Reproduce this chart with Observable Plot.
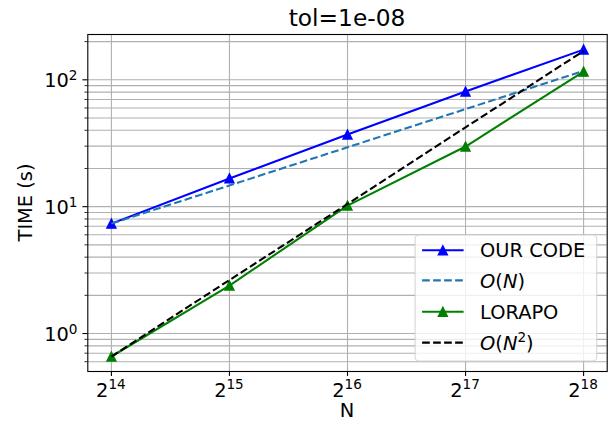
<!DOCTYPE html>
<html><head><meta charset="utf-8">
<script src="https://cdn.jsdelivr.net/npm/d3@7"></script>
<script src="https://cdn.jsdelivr.net/npm/@observablehq/plot@0.6"></script>
<style>body{margin:0;background:#fff} svg{display:block}</style>
</head><body><div id="chart"></div>
<script>
// ---- data ----
const N = [16384, 32768, 65536, 131072, 262144];
const ourCode = [7.35, 16.7, 37.1, 80.9, 173];
const orderN = [7.35, 14.7, 29.4, 58.8, 117.6];
const lorapo = [0.659, 2.39, 10.2, 29.8, 116];
const orderN2 = [0.659, 2.64, 10.5, 42.2, 168.7];
const xTickBase = "2";
const xTickExponents = [14, 15, 16, 17, 18];
const yMajorTicks = [1, 10, 100];
const yTickBase = "10";
const yMajorExponents = ["0", "1", "2"];
const yMinorTicks = [0.6, 0.7, 0.8, 0.9, 2, 3, 4, 5, 6, 7, 8, 9, 20, 30, 40, 50, 60, 70, 80, 90, 200];
const titleText = "tol=1e-08";
const xLabelText = "N";
const yLabelText = "TIME (s)";

// ---- styling ----
const W = 610, H = 426, mL = 87.3, mR = 3.3, mT = 34, mB = 55;
const FONT = "DejaVu Sans";
const FS = 19.4, SUP = 13.6, RAISE = 7.4;
const LW = 2.08, DASH = "7.7,3.3";
const MSIDE = 9.0;

const series = [
  {name: "OUR CODE", values: ourCode, color: "#0000ff", dash: null, marker: true},
  {name: "O(N)", values: orderN, color: "#1f77b4", dash: DASH, marker: false},
  {name: "LORAPO", values: lorapo, color: "#008000", dash: null, marker: true},
  {name: "O(N^2)", values: orderN2, color: "#000000", dash: DASH, marker: false}
];
const rowsOf = s => N.map((n, i) => ({n, t: s.values[i]}));

// matplotlib-like "^" marker (height == base)
const triUp = {draw(ctx, size) {
  const h = Math.sqrt(size) / 2;
  ctx.moveTo(0, -h); ctx.lineTo(h, h); ctx.lineTo(-h, h); ctx.closePath();
}};
const MR = MSIDE / Math.sqrt(Math.PI);

const marks = [
  Plot.gridY([...yMajorTicks, ...yMinorTicks], {stroke: "#b0b0b0", strokeOpacity: 1, strokeWidth: 1.1}),
  Plot.gridX(N, {stroke: "#b0b0b0", strokeOpacity: 1, strokeWidth: 1.1})
];
for (const s of series) {
  const data = rowsOf(s);
  marks.push(Plot.line(data, {x: "n", y: "t", stroke: s.color, strokeWidth: LW, strokeDasharray: s.dash, strokeLinecap: "butt"}));
  if (s.marker) marks.push(Plot.dot(data, {x: "n", y: "t", symbol: triUp, r: MR, fill: s.color, stroke: s.color, strokeWidth: 1.39}));
}
marks.push(
  Plot.frame({stroke: "#000", strokeWidth: 1.1}),
  Plot.axisX(N, {tickSize: 4.9, strokeWidth: 1.1, tickFormat: () => "", label: null}),
  Plot.axisY(yMajorTicks, {tickSize: 4.9, strokeWidth: 1.1, tickFormat: () => "", label: null}),
  Plot.axisY(yMinorTicks, {tickSize: 2.8, strokeWidth: 0.83, tickFormat: () => "", label: null})
);

const chart = Plot.plot({
  width: W, height: H,
  marginLeft: mL, marginRight: mR, marginTop: mT, marginBottom: mB,
  style: {fontFamily: FONT, background: "#fff", overflow: "visible"},
  x: {type: "log", base: 2, domain: [2 ** 13.8, 2 ** 18.2]},
  y: {type: "log", domain: [0.502, 227.6]},
  marks
});
document.getElementById("chart").appendChild(chart);

const svg = d3.select(chart);
const xs = chart.scale("x"), ys = chart.scale("y");
const g = svg.append("g").attr("font-family", FONT).attr("fill", "#000");

// x tick labels 2^k
xTickExponents.forEach(e => {
  const t = g.append("text").attr("x", xs.apply(2 ** e)).attr("y", H - mB + 25.7)
    .attr("text-anchor", "middle").attr("font-size", FS);
  t.append("tspan").text(xTickBase);
  t.append("tspan").attr("font-size", SUP).attr("dy", -RAISE).text(String(e));
});
// y tick labels 10^k
yMajorTicks.forEach((v, i) => {
  const t = g.append("text").attr("x", mL - 9.8).attr("y", ys.apply(v) + 8)
    .attr("text-anchor", "end").attr("font-size", FS);
  t.append("tspan").text(yTickBase);
  t.append("tspan").attr("font-size", SUP).attr("dy", -RAISE).text(yMajorExponents[i]);
});
// title and axis labels
const cx = (mL + W - mR) / 2, cy = (mT + H - mB) / 2;
g.append("text").attr("x", cx).attr("y", 26).attr("text-anchor", "middle").attr("font-size", 23.3).text(titleText);
g.append("text").attr("x", cx).attr("y", 417).attr("text-anchor", "middle").attr("font-size", FS).text(xLabelText);
g.append("text").attr("transform", `translate(31.5,${cy}) rotate(-90)`).attr("text-anchor", "middle").attr("font-size", FS).text(yLabelText);

// legend (lower right)
const lg = svg.append("g").attr("font-family", FONT);
const boxR = W - mR - 10, boxL = boxR - 181.6, boxT = 235, boxB = 361;
lg.append("rect").attr("x", boxL).attr("y", boxT).attr("width", boxR - boxL).attr("height", boxB - boxT)
  .attr("rx", 3.9).attr("fill", "#fff").attr("fill-opacity", 0.8)
  .attr("stroke", "#cccccc").attr("stroke-opacity", 0.8).attr("stroke-width", 1.1);
const rowY = [250.2, 280.4, 311.7, 342.6];
const hx0 = boxL + 7, hx1 = boxL + 48.5, tx = boxL + 65;
series.forEach((s, i) => {
  const y = rowY[i];
  lg.append("line").attr("x1", hx0).attr("x2", hx1).attr("y1", y).attr("y2", y)
    .attr("stroke", s.color).attr("stroke-width", LW).attr("stroke-dasharray", s.dash);
  if (s.marker) {
    const h = MSIDE / 2, mx = (hx0 + hx1) / 2;
    lg.append("path").attr("d", `M${mx},${y - h}L${mx + h},${y + h}L${mx - h},${y + h}Z`)
      .attr("fill", s.color).attr("stroke", s.color).attr("stroke-width", 1.39);
  }
  const t = lg.append("text").attr("x", tx).attr("y", y + 7.2).attr("text-anchor", "start")
    .attr("font-size", FS).attr("fill", "#000");
  if (s.name === "O(N)") {
    t.append("tspan").attr("font-style", "italic").text("O");
    t.append("tspan").text("(");
    t.append("tspan").attr("font-style", "italic").text("N");
    t.append("tspan").text(")");
  } else if (s.name === "O(N^2)") {
    t.append("tspan").attr("font-style", "italic").text("O");
    t.append("tspan").text("(");
    t.append("tspan").attr("font-style", "italic").text("N");
    t.append("tspan").attr("font-size", SUP).attr("dy", -RAISE).text("2");
    t.append("tspan").attr("dy", RAISE).text(")");
  } else {
    t.text(s.name);
  }
});
</script>
</body></html>
